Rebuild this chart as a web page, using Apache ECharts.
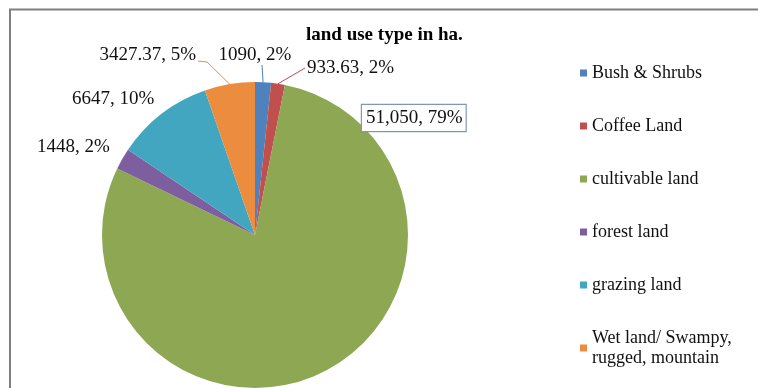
<!DOCTYPE html>
<html>
<head>
<meta charset="utf-8">
<title>land use type in ha.</title>
<script src="https://cdn.jsdelivr.net/npm/echarts@6/dist/echarts.min.js"></script>
<style>
	html, body { margin: 0; padding: 0; background: #fff; }
	#chart { width: 758px; height: 388px; }
</style>
</head>
<body>
<div id="chart"></div>
<script>
'use strict';

var categories = ['Bush & Shrubs', 'Coffee Land', 'cultivable land', 'forest land', 'grazing land', 'Wet land/ Swampy,\nrugged, mountain'];
var values = [1090, 933.63, 51050, 1448, 6647, 3427.37];
var valueText = ['1090', '933.63', '51,050', '1448', '6647', '3427.37'];
var percentText = [2, 2, 79, 2, 10, 5];

(function(window, undefined){

	var colors = ['#4F81BD', '#C0504D', '#8DA752', '#7D5FA0', '#43A6C1', '#EB8C3F'],
			font = 'Liberation Serif';

	/**
	 * 标签位置 (x, y, align), 以及引导线折点
	 */
	var labelPos = [
		{ x: 255, y: 55, align: 'center', bend: [262, 65] },
		{ x: 307, y: 68, align: 'left', bend: [305, 68] },
		{ x: 362, y: 118, align: 'left' },
		{ x: 37, y: 147, align: 'left' },
		{ x: 72, y: 99, align: 'left' },
		{ x: 196, y: 55, align: 'right', bend: [207, 62], end: [198, 61] },
	];

	function buildData(){
		return categories.map(function(name, i){
			var item = {
				name: name,
				value: values[i],
				itemStyle: { color: colors[i] },
				labelLine: { show: !!labelPos[i].bend },
			};
			if(i === 2){
				item.label = {
					borderColor: '#7f98b6',
					borderWidth: 1.2,
					padding: [4, 3, 3, 4],
					backgroundColor: '#fff',
				};
			}
			return item;
		});
	}

	function layoutLabel(params){
		var p = labelPos[params.dataIndex],
				res = { x: p.x, y: p.y, align: p.align, verticalAlign: 'middle' };
		if(p.bend && params.labelLinePoints){
			var pts = [params.labelLinePoints[0], p.bend];
			if(p.end){ pts.push(p.end); }
			res.labelLinePoints = pts;
		}
		return res;
	}

	var option = {
		animation: false,
		backgroundColor: '#fff',
		title: {
			text: 'land use type in ha.',
			left: 306,
			top: 26,
			padding: 0,
			textStyle: { fontFamily: font, fontSize: 19, fontWeight: 'bold', color: '#000' },
		},
		legend: {
			orient: 'vertical',
			left: 575,
			top: 58,
			itemWidth: 7,
			itemHeight: 7,
			itemGap: 33,
			icon: 'rect',
			data: categories,
			textStyle: { fontFamily: font, fontSize: 18, lineHeight: 20, color: '#111' },
		},
		graphic: [{
			type: 'rect',
			silent: true,
			shape: { x: 10, y: 9.5, width: 800, height: 420 },
			style: { fill: 'none', stroke: '#808080', lineWidth: 2 },
		}],
		series: [{
			type: 'pie',
			center: [255, 235],
			radius: 153,
			startAngle: 90,
			clockwise: true,
			avoidLabelOverlap: false,
			data: buildData(),
			label: {
				show: true,
				position: 'outside',
				fontFamily: font,
				fontSize: 19,
				color: '#111',
				formatter: function(p){
					return valueText[p.dataIndex] + ', ' + percentText[p.dataIndex] + '%';
				},
			},
			labelLine: { show: true, length: 10, length2: 10, lineStyle: { width: 1 } },
			labelLayout: layoutLabel,
			emphasis: { disabled: true },
		}],
	};

	echarts.init(document.getElementById('chart')).setOption(option);

})(typeof window !== 'undefined' ? window : this, undefined);
</script>
</body>
</html>
